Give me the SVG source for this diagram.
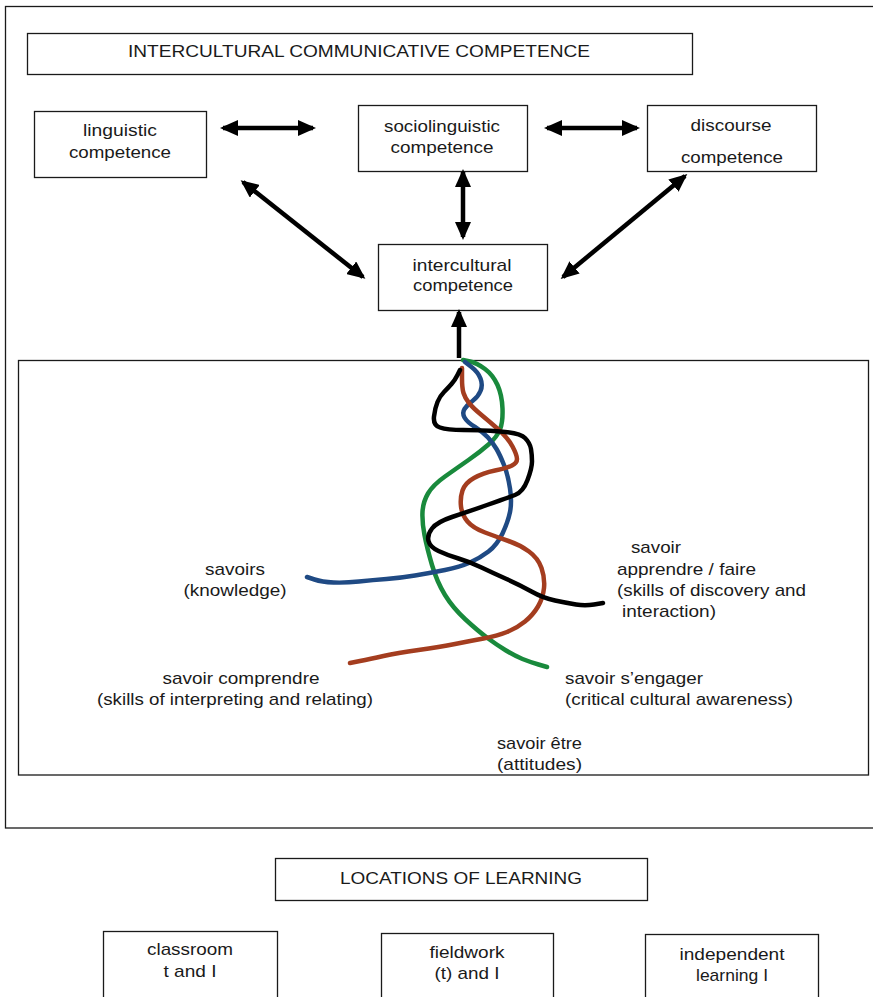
<svg xmlns="http://www.w3.org/2000/svg" width="873" height="997" viewBox="0 0 873 997">
  <style>
    .box { fill: #ffffff; stroke: #1a1a1a; stroke-width: 1.3; }
    .frame { fill: none; stroke: #1a1a1a; stroke-width: 1.3; }
    .lbl { font-family: "Liberation Sans", Arial, sans-serif; font-size: 17px; fill: #1a1a1a; }
    .mid { text-anchor: middle; }
    .arrow { stroke: #000000; stroke-width: 4.5; fill: none; marker-start: url(#head); marker-end: url(#head); }
    .arrow1 { stroke: #000000; stroke-width: 4.5; fill: none; marker-end: url(#head); }
    .strand { fill: none; stroke-width: 4.5; stroke-linecap: round; stroke-linejoin: round; }
  </style>
  <defs>
    <marker id="head" markerUnits="userSpaceOnUse" markerWidth="18" markerHeight="16" refX="15" refY="8" orient="auto-start-reverse">
      <path d="M0,0 L18,8 L0,16 Z" fill="#000000"/>
    </marker>
  </defs>

  <rect width="873" height="997" fill="#ffffff"/>

  <!-- outer frame of the competence model -->
  <rect class="frame" x="5.5" y="6.5" width="880" height="821.5"/>

  <g id="node-icc">
    <rect class="box" x="27.5" y="33.5" width="665" height="41"/>
    <text class="lbl mid" x="359" y="57" textLength="462" lengthAdjust="spacingAndGlyphs">INTERCULTURAL COMMUNICATIVE COMPETENCE</text>
  </g>

  <g id="node-linguistic">
    <rect class="box" x="34.5" y="111.5" width="172" height="66"/>
    <text class="lbl mid" x="120" y="136" textLength="74" lengthAdjust="spacingAndGlyphs">linguistic</text>
    <text class="lbl mid" x="120" y="158" textLength="102" lengthAdjust="spacingAndGlyphs">competence</text>
  </g>

  <g id="node-sociolinguistic">
    <rect class="box" x="358.5" y="105.5" width="169" height="66"/>
    <text class="lbl mid" x="442" y="132" textLength="116" lengthAdjust="spacingAndGlyphs">sociolinguistic</text>
    <text class="lbl mid" x="442" y="153" textLength="103" lengthAdjust="spacingAndGlyphs">competence</text>
  </g>

  <g id="node-discourse">
    <rect class="box" x="647.5" y="105.5" width="169" height="66"/>
    <text class="lbl mid" x="731" y="131" textLength="81" lengthAdjust="spacingAndGlyphs">discourse</text>
    <text class="lbl mid" x="732" y="163" textLength="102" lengthAdjust="spacingAndGlyphs">competence</text>
  </g>

  <g id="node-intercultural">
    <rect class="box" x="378.5" y="244.5" width="169" height="66"/>
    <text class="lbl mid" x="462" y="271" textLength="99" lengthAdjust="spacingAndGlyphs">intercultural</text>
    <text class="lbl mid" x="463" y="291" textLength="100" lengthAdjust="spacingAndGlyphs">competence</text>
  </g>

  <g id="connectors">
    <line class="arrow" x1="223" y1="128" x2="313" y2="128"/>
    <line class="arrow" x1="547" y1="128" x2="637" y2="128"/>
    <line class="arrow" x1="463" y1="172" x2="463" y2="237"/>
    <line class="arrow" x1="243" y1="182" x2="363" y2="277"/>
    <line class="arrow" x1="685" y1="176" x2="563" y2="277"/>
    <line class="arrow1" x1="459" y1="358" x2="459" y2="312"/>
  </g>

  <!-- the intertwined savoirs -->
  <g id="node-savoirs-panel">
    <rect class="box" x="18.5" y="360.5" width="850" height="414.5"/>

    <path class="strand" stroke="#198a3c" d="M463,360 L470,361.5 Q477,363 485,369 Q493,375 497.5,385 Q502,395 502.5,408.5 Q503,422 500,429.5 Q497,437 488.5,444.5 Q480,452 468.5,460 Q457,468 445,476.5 Q433,485 428,493.5 Q423,502 422.5,512 Q422,522 424.5,535 Q427,548 432,565 Q437,582 445,595 Q453,608 465.5,619.5 Q478,631 487.5,638 Q497,645 506,650.5 Q515,656 522.5,659 Q530,662 538.5,664.5 L547,667"/>
    <path class="strand" stroke="#1f4a84" d="M465,362 L471.5,367 Q478,372 480.5,378.5 Q483,385 480.5,391 Q478,397 472.5,401 Q467,405 464.5,409 Q462,413 464.5,417.5 Q467,422 475,427 Q483,432 488,437.5 Q493,443 496.5,449 Q500,455 504,465 Q508,475 510,488.5 Q512,502 510,512 Q508,522 502.5,533.5 Q497,545 488.5,551.5 Q480,558 470,562.5 Q460,567 445,570 Q430,573 415,575.5 Q400,578 386.5,579 Q373,580 359,581.5 Q345,583 333.5,582.5 Q322,582 314.5,579.5 L307,577"/>
    <path class="strand" stroke="#a43d1f" d="M462,368 L462,378 Q462,388 463.5,393 Q465,398 469,403 Q473,408 481.5,415 Q490,422 499,430 Q508,438 512.5,446.5 Q517,455 517,459 Q517,463 512,465.5 Q507,468 495,470.5 Q483,473 474,478 Q465,483 462.5,490.5 Q460,498 461,506.5 Q462,515 467.5,521.5 Q473,528 485,532.5 Q497,537 508.5,541 Q520,545 529,551.5 Q538,558 541.5,568 Q545,578 544,588 Q543,598 538,606.5 Q533,615 525,621.5 Q517,628 507,632 Q497,636 483.5,638.5 Q470,641 455,644 Q440,647 418.5,650 Q397,653 383.5,656 Q370,659 360,661 L350,663"/>
    <path class="strand" stroke="#000000" d="M460,370 L457.5,375 Q455,380 451.5,384 Q448,388 444,392 Q440,396 437.5,402 Q435,408 434,416.5 Q433,425 440,427.5 Q447,430 463.5,430 Q480,430 500,431.5 Q520,433 525,438 Q530,443 531,449 Q532,455 532,461.5 Q532,468 527.5,480 Q523,492 515,495 Q507,498 487,505 Q467,512 452,517 Q437,522 432,528.5 Q427,535 428.5,541 Q430,547 438.5,551 Q447,555 458.5,558.5 Q470,562 481.5,567.5 Q493,573 506.5,579 Q520,585 531.5,591.5 Q543,598 555,600.5 Q567,603 576,604.5 Q585,606 594,604.5 L603,603"/>

    <text class="lbl mid" x="235" y="575" textLength="60" lengthAdjust="spacingAndGlyphs">savoirs</text>
    <text class="lbl mid" x="235" y="596" textLength="103" lengthAdjust="spacingAndGlyphs">(knowledge)</text>

    <text class="lbl mid" x="656" y="553" textLength="50" lengthAdjust="spacingAndGlyphs">savoir</text>
    <text class="lbl" x="617" y="575" textLength="139" lengthAdjust="spacingAndGlyphs">apprendre / faire</text>
    <text class="lbl" x="617" y="596" textLength="189" lengthAdjust="spacingAndGlyphs">(skills of discovery and</text>
    <text class="lbl" x="622" y="617" textLength="94" lengthAdjust="spacingAndGlyphs">interaction)</text>

    <text class="lbl mid" x="241" y="684" textLength="157" lengthAdjust="spacingAndGlyphs">savoir comprendre</text>
    <text class="lbl mid" x="235" y="705" textLength="276" lengthAdjust="spacingAndGlyphs">(skills of interpreting and relating)</text>

    <text class="lbl" x="565" y="684" textLength="138" lengthAdjust="spacingAndGlyphs">savoir s’engager</text>
    <text class="lbl" x="565" y="705" textLength="228" lengthAdjust="spacingAndGlyphs">(critical cultural awareness)</text>

    <text class="lbl" x="497" y="749" textLength="85" lengthAdjust="spacingAndGlyphs">savoir être</text>
    <text class="lbl" x="497" y="770" textLength="85" lengthAdjust="spacingAndGlyphs">(attitudes)</text>
  </g>

  <g id="node-locations">
    <rect class="box" x="275.5" y="858.5" width="372" height="42"/>
    <text class="lbl mid" x="461" y="884" textLength="242" lengthAdjust="spacingAndGlyphs">LOCATIONS OF LEARNING</text>
  </g>

  <g id="node-classroom">
    <rect class="box" x="103.5" y="931.5" width="174" height="70"/>
    <text class="lbl mid" x="190" y="955" textLength="86" lengthAdjust="spacingAndGlyphs">classroom</text>
    <text class="lbl mid" x="190" y="977" textLength="53" lengthAdjust="spacingAndGlyphs">t and I</text>
  </g>

  <g id="node-fieldwork">
    <rect class="box" x="381.5" y="933.5" width="172" height="70"/>
    <text class="lbl mid" x="467" y="958" textLength="75" lengthAdjust="spacingAndGlyphs">fieldwork</text>
    <text class="lbl mid" x="467" y="979" textLength="65" lengthAdjust="spacingAndGlyphs">(t) and I</text>
  </g>

  <g id="node-independent">
    <rect class="box" x="645.5" y="934.5" width="173" height="70"/>
    <text class="lbl mid" x="732" y="960" textLength="105" lengthAdjust="spacingAndGlyphs">independent</text>
    <text class="lbl mid" x="732" y="981" textLength="72" lengthAdjust="spacingAndGlyphs">learning I</text>
  </g>
</svg>
